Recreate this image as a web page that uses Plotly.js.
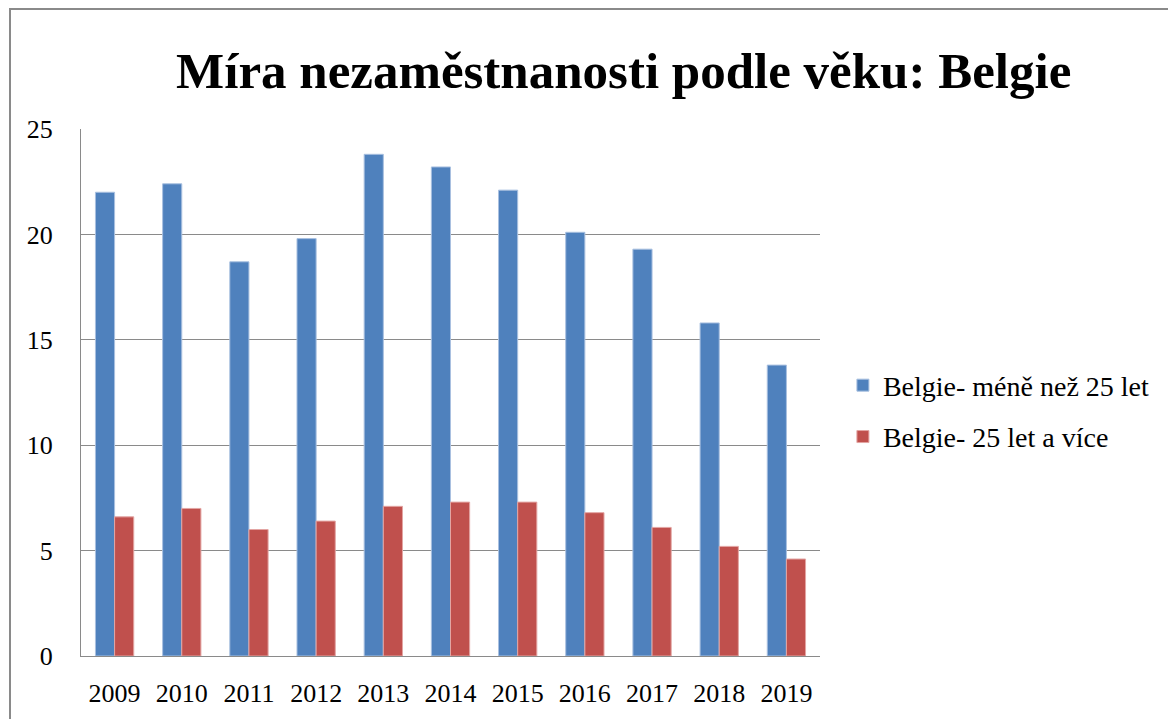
<!DOCTYPE html>
<html>
<head>
<meta charset="utf-8">
<script src="https://cdn.plot.ly/plotly-3.0.1.min.js"></script>
<style>
  html, body { margin: 0; padding: 0; background: #ffffff; }
  #wrap { position: relative; width: 1168px; height: 719px; overflow: hidden; }
  #chart { width: 1168px; height: 719px; }
  #frame { position: absolute; left: 9px; top: 8px; width: 1200px; height: 760px;
           border: 2px solid #8a8a8a; pointer-events: none; }
</style>
</head>
<body>
<div id="wrap">
  <div id="chart"></div>
  <div id="frame"></div>
</div>
<script>
const years = ["2009","2010","2011","2012","2013","2014","2015","2016","2017","2018","2019"];
const under25 = [22.0, 22.4, 18.7, 19.8, 23.8, 23.2, 22.1, 20.1, 19.3, 15.8, 13.8];
const over25 = [6.6, 7.0, 6.0, 6.4, 7.1, 7.3, 7.3, 6.8, 6.1, 5.2, 4.6];
const seriesNames = ["Belgie- méně než 25 let", "Belgie- 25 let a více"];
const titleText = "Míra nezaměstnanosti podle věku: Belgie";

const serif = "'Liberation Serif', 'Times New Roman', serif";

const traces = [
  { type: "bar", x: years, y: under25, name: seriesNames[0], legendgroup: "a",
    marker: { color: "#4F81BD", line: { color: "#A9C0E0", width: 1 } } },
  { type: "bar", x: years, y: over25, name: seriesNames[1], legendgroup: "b",
    marker: { color: "#C0504D", line: { color: "#E3A5A3", width: 1 } } }
];

const layout = {
  width: 1168, height: 719,
  margin: { l: 81, r: 348, t: 129, b: 63 },
  paper_bgcolor: "rgba(0,0,0,0)",
  plot_bgcolor: "#ffffff",
  barmode: "group",
  bargap: 0.43,
  bargroupgap: 0,
  showlegend: true,
  title: {
    text: "<b>" + titleText + "</b>",
    font: { family: serif, size: 51, color: "#000000" },
    x: 0.534, xanchor: "center", xref: "container",
    y: 0.903, yanchor: "middle", yref: "container"
  },
  xaxis: {
    type: "category",
    showgrid: false,
    showline: true, linecolor: "#8a8a8a", linewidth: 1,
    ticks: "", ticklabelstandoff: 14,
    tickfont: { family: serif, size: 26, color: "#000000" }
  },
  yaxis: {
    range: [0, 25],
    dtick: 5, tick0: 0,
    showgrid: true, gridcolor: "#8a8a8a", gridwidth: 1,
    showline: true, linecolor: "#8a8a8a", linewidth: 1,
    zeroline: false,
    ticks: "", ticklabelstandoff: 22,
    tickfont: { family: serif, size: 26, color: "#000000" }
  },
  legend: {
    x: 1.031, xanchor: "left",
    y: 0.465, yanchor: "middle",
    font: { family: serif, size: 28, color: "#000000" },
    traceorder: "grouped",
    tracegroupgap: 12,
    itemwidth: 30,
    bgcolor: "rgba(0,0,0,0)"
  }
};

Plotly.newPlot("chart", traces, layout, { displayModeBar: false, staticPlot: true });
</script>
</body>
</html>
